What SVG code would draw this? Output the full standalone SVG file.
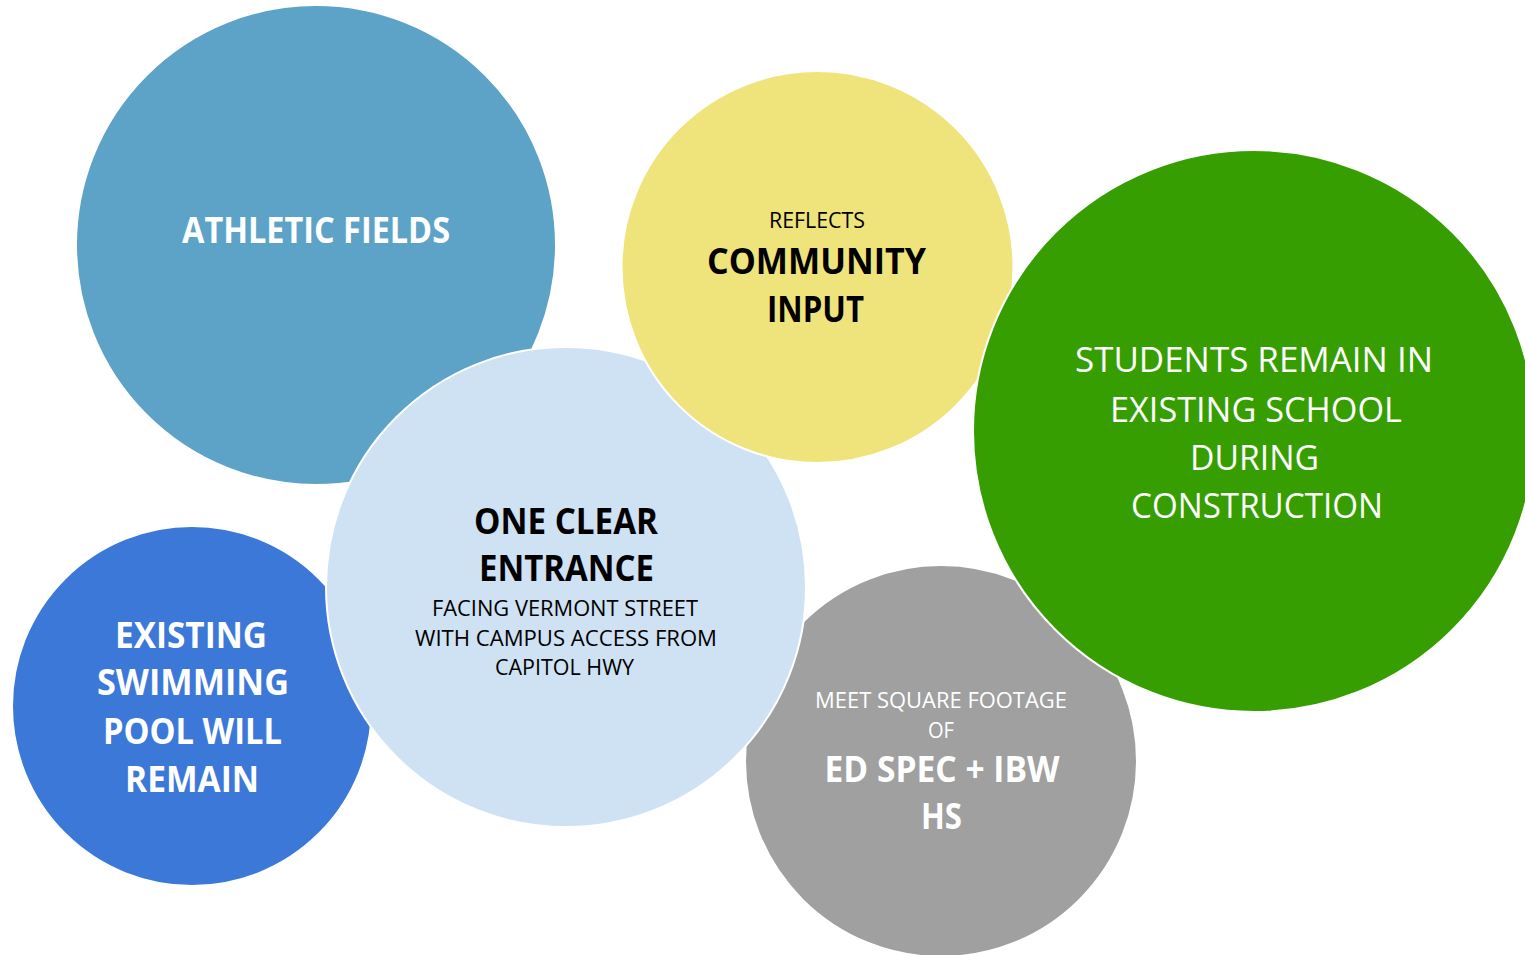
<svg xmlns="http://www.w3.org/2000/svg" width="1525" height="955" viewBox="0 0 1525 955">
<style>
.c{stroke:#fff;stroke-width:2}
text{font-family:"Open Sans","Liberation Sans",sans-serif;text-anchor:middle}
.b{font-weight:bold;font-size:35px}
.r{font-size:34px}
.s{font-size:21px}
.w{fill:#fff}
.k{fill:#000}
</style>
<rect width="1525" height="955" fill="#fff"/>
<g id="connectors"/>
<g id="athletic">
<circle class="c" cx="316" cy="245" r="240" fill="#5DA3C7"/>
<text class="b w" x="316" y="243" textLength="268" lengthAdjust="spacingAndGlyphs">ATHLETIC FIELDS</text>
</g>
<g id="pool">
<circle class="c" cx="192" cy="706" r="180" fill="#3C78D8"/>
<text class="b w" x="191" y="648" textLength="152" lengthAdjust="spacingAndGlyphs">EXISTING</text>
<text class="b w" x="193" y="695" textLength="192" lengthAdjust="spacingAndGlyphs">SWIMMING</text>
<text class="b w" x="192.5" y="744" textLength="179" lengthAdjust="spacingAndGlyphs">POOL WILL</text>
<text class="b w" x="192" y="792" textLength="134" lengthAdjust="spacingAndGlyphs">REMAIN</text>
</g>
<g id="sqft">
<circle class="c" cx="941" cy="761" r="196" fill="#A0A0A0"/>
<text class="s w" x="941" y="708" textLength="252" lengthAdjust="spacingAndGlyphs">MEET SQUARE FOOTAGE</text>
<text class="s w" x="941" y="738" textLength="26" lengthAdjust="spacingAndGlyphs">OF</text>
<text class="b w" x="942" y="782" textLength="235" lengthAdjust="spacingAndGlyphs">ED SPEC + IBW</text>
<text class="b w" x="941.5" y="829" textLength="41" lengthAdjust="spacingAndGlyphs">HS</text>
</g>
<g id="entrance">
<circle class="c" cx="566" cy="587" r="240" fill="#CFE2F3"/>
<text class="b k" x="566" y="534" textLength="184" lengthAdjust="spacingAndGlyphs">ONE CLEAR</text>
<text class="b k" x="566.5" y="581" textLength="175" lengthAdjust="spacingAndGlyphs">ENTRANCE</text>
<text class="s k" x="565" y="616" textLength="266" lengthAdjust="spacingAndGlyphs">FACING VERMONT STREET</text>
<text class="s k" x="566" y="646" textLength="302" lengthAdjust="spacingAndGlyphs">WITH CAMPUS ACCESS FROM</text>
<text class="s k" x="564.5" y="675" textLength="139" lengthAdjust="spacingAndGlyphs">CAPITOL HWY</text>
</g>
<g id="community">
<circle class="c" cx="817.5" cy="267" r="196" fill="#EFE47B"/>
<text class="s k" x="817" y="228" textLength="96" lengthAdjust="spacingAndGlyphs">REFLECTS</text>
<text class="b k" x="816.5" y="274" textLength="219" lengthAdjust="spacingAndGlyphs">COMMUNITY</text>
<text class="b k" x="815.5" y="322" textLength="97" lengthAdjust="spacingAndGlyphs">INPUT</text>
</g>
<g id="students">
<circle class="c" cx="1254" cy="431" r="281" fill="#369E01"/>
<text class="r w" x="1254" y="372" textLength="358" lengthAdjust="spacingAndGlyphs">STUDENTS REMAIN IN</text>
<text class="r w" x="1256" y="422" textLength="292" lengthAdjust="spacingAndGlyphs">EXISTING SCHOOL</text>
<text class="r w" x="1254.5" y="470" textLength="129" lengthAdjust="spacingAndGlyphs">DURING</text>
<text class="r w" x="1257" y="518" textLength="252" lengthAdjust="spacingAndGlyphs">CONSTRUCTION</text>
</g>
</svg>
